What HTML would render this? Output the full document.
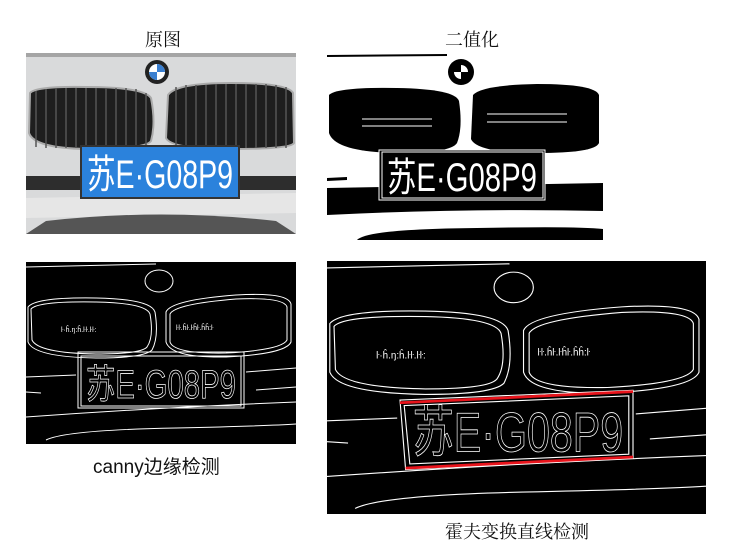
<!DOCTYPE html>
<html><head><meta charset="utf-8"><style>
body{margin:0;width:730px;height:555px;background:#fff;position:relative;overflow:hidden;font-family:"Liberation Serif","Noto Serif CJK SC",serif;}
.l{position:absolute;font-size:18px;color:#111;white-space:nowrap}
svg{position:absolute}
.pt{font-family:"Liberation Sans","Noto Sans CJK SC",sans-serif;}
</style></head><body>
<div class="l" style="left:145px;top:26px">原图</div>
<div class="l" style="left:445px;top:26px">二值化</div>
<div class="l" style="left:93px;top:452px;font-family:'Liberation Sans','Noto Sans CJK SC',sans-serif;font-size:19px">canny边缘检测</div>
<div class="l" style="left:445px;top:518px">霍夫变换直线检测</div>

<!-- Image 1 -->
<svg style="left:26px;top:53px" width="270" height="181" viewBox="0 0 270 181">
<rect width="270" height="181" fill="#d9dadb"/>
<rect y="0" width="270" height="4" fill="#a5a5a5"/>
<path d="M0 145 L270 140 L270 160 L0 165Z" fill="#e6e6e6"/>
<rect x="0" y="123" width="270" height="14" fill="#2d2d2d"/>
<path d="M20 168 Q135 155 250 168 L270 181 L0 181Z" fill="#555"/>
<circle cx="131" cy="19" r="12" fill="#222"/><circle cx="131" cy="19" r="8" fill="#fff"/>
<path d="M131 11 A8 8 0 0 1 139 19 L131 19Z M131 27 A8 8 0 0 1 123 19 L131 19Z" fill="#3a7fd0"/>
<path d="M4 40 Q10 33 60 34 Q118 34 125 45 Q130 70 125 88 Q120 96 60 96 Q8 95 3 80Z" fill="#1e1e1e" stroke="#aaa" stroke-width="2"/>
<path d="M142 42 Q150 30 205 30 Q262 30 267 40 L268 90 Q265 96 205 96 Q145 96 140 85Z" fill="#1e1e1e" stroke="#aaa" stroke-width="2"/>
<g stroke="#555" stroke-width="1.5"><path d="M10 38V94M20 36V95M30 35V95M40 35V95M50 35V95M60 35V95M70 35V95M80 35V95M90 35V95M100 35V95M110 36V95M120 40V92M150 34V94M160 32V95M170 32V95M180 32V95M190 31V95M200 31V95M210 31V95M220 31V95M230 31V95M240 31V95M250 32V95M260 34V95"/></g>
<rect x="54" y="92" width="160" height="54" fill="#333"/>
<rect x="56" y="94" width="156" height="50" fill="#2b82dc"/>
<text x="134" y="135" text-anchor="middle" class="pt" font-size="40" fill="#fff" textLength="146" lengthAdjust="spacingAndGlyphs">苏E·G08P9</text>
</svg>

<!-- Image 2 -->
<svg style="left:327px;top:53px" width="276" height="187" viewBox="0 0 276 187">
<rect width="276" height="187" fill="#fff"/>
<path d="M0 2 L120 1 L120 3 L0 4Z" fill="#000"/>
<circle cx="134" cy="19" r="13" fill="#000"/><path d="M134 12 A7 7 0 0 1 141 19 L134 19Z M134 26 A7 7 0 0 1 127 19 L134 19Z" fill="#fff"/>
<path d="M2 42 Q10 34 70 35 Q128 36 132 48 Q136 75 130 90 Q124 100 70 100 Q8 99 2 80Z" fill="#000"/>
<path d="M146 42 Q155 32 210 31 Q268 31 272 42 L272 90 Q268 100 210 100 Q150 100 144 86Z" fill="#000"/>
<path d="M0 135 L276 130 L276 158 Q140 155 0 162Z" fill="#000"/>
<path d="M0 125 L20 124 L20 127 L0 128Z" fill="#000"/>
<path d="M30 187 Q40 176 150 175 Q250 173 276 176 L276 187Z" fill="#000"/>
<g fill="#fff" opacity=".5"><rect x="35" y="65" width="70" height="2"/><rect x="35" y="72" width="70" height="2"/><rect x="160" y="60" width="80" height="2"/><rect x="160" y="68" width="80" height="2"/></g>
<rect x="52" y="97" width="166" height="50" fill="#000" stroke="#fff" stroke-width="1"/>
<rect x="55" y="99" width="161" height="46" fill="#000" stroke="#fff" stroke-width="1"/>
<text x="135" y="138" text-anchor="middle" class="pt" font-size="40" fill="#fff" textLength="150" lengthAdjust="spacingAndGlyphs">苏E·G08P9</text>
</svg>

<!-- Image 3 -->
<svg style="left:26px;top:262px" width="270" height="182" viewBox="0 0 270 182">
<rect width="270" height="182" fill="#000"/>
<g fill="none" stroke="#fff" stroke-width="1">
<path d="M0 5 L130 2"/>
<ellipse cx="133" cy="19" rx="14" ry="11"/>
<path d="M2 45 Q10 35 70 36 Q125 37 129 50 Q133 75 126 88 Q118 96 70 96 Q8 95 2 80Z"/>
<path d="M5 47 Q12 39 70 40 Q120 41 124 52 Q128 75 121 85 Q115 92 70 92 Q12 91 6 78Z"/>
<path d="M140 50 Q145 38 210 33 Q262 30 265 42 L265 80 Q260 92 200 95 Q145 96 140 80Z"/>
<path d="M144 52 Q149 42 210 37 Q258 35 261 45 L261 78 Q256 88 200 91 Q148 92 144 80Z"/>
<rect x="52" y="90" width="166" height="56"/>
<rect x="55" y="94" width="160" height="50"/>
<path d="M0 115 L50 113 M220 110 L270 106 M0 155 Q140 145 270 140 M20 178 Q40 168 150 166 Q240 164 270 162 M0 130 L15 131 M230 128 L270 125"/>
</g>
<g fill="#fff" font-size="7" class="pt"><text x="35" y="70">ŀ·ĥ.ŋ:ĥ.ŀŀ.ŀŀ:</text><text x="150" y="68">ŀŀ.ĥŀ.ŀĥŀ.ĥĥ:ŀ</text></g>
<text x="135" y="136" text-anchor="middle" class="pt" font-size="40" fill="#000" stroke="#fff" stroke-width="0.8" textLength="150" lengthAdjust="spacingAndGlyphs">苏E·G08P9</text>
</svg>

<!-- Image 4 -->
<svg style="left:327px;top:261px" width="379" height="253" viewBox="0 0 270 182" preserveAspectRatio="none">
<rect width="270" height="182" fill="#000"/>
<g fill="none" stroke="#fff" stroke-width="0.8">
<path d="M0 5 L130 2"/>
<ellipse cx="133" cy="19" rx="14" ry="11"/>
<path d="M2 45 Q10 35 70 36 Q125 37 129 50 Q133 75 126 88 Q118 96 70 96 Q8 95 2 80Z"/>
<path d="M5 47 Q12 39 70 40 Q120 41 124 52 Q128 75 121 85 Q115 92 70 92 Q12 91 6 78Z"/>
<path d="M140 50 Q145 38 210 33 Q262 30 265 42 L265 80 Q260 92 200 95 Q145 96 140 80Z"/>
<path d="M144 52 Q149 42 210 37 Q258 35 261 45 L261 78 Q256 88 200 91 Q148 92 144 80Z"/>
<path d="M52 100 L218 93 L218 142 L56 150Z"/>
<path d="M55 104 L215 97 L215 139 L59 146Z"/>
<path d="M0 115 L50 113 M220 110 L270 106 M0 155 Q140 145 270 140 M20 178 Q40 168 150 166 Q240 164 270 162 M0 130 L15 131 M230 128 L270 125"/>
</g>
<g fill="#fff" font-size="7" class="pt"><text x="35" y="70">ŀ·ĥ.ŋ:ĥ.ŀŀ.ŀŀ:</text><text x="150" y="68">ŀŀ.ĥŀ.ŀĥŀ.ĥĥ:ŀ</text></g>
<text x="136" y="137" text-anchor="middle" class="pt" font-size="40" fill="#000" stroke="#fff" stroke-width="0.6" textLength="150" lengthAdjust="spacingAndGlyphs">苏E·G08P9</text>
<path d="M52 102 L218 94 M56 149 L218 141" stroke="#e8141c" stroke-width="2"/>
</svg>
</body></html>
